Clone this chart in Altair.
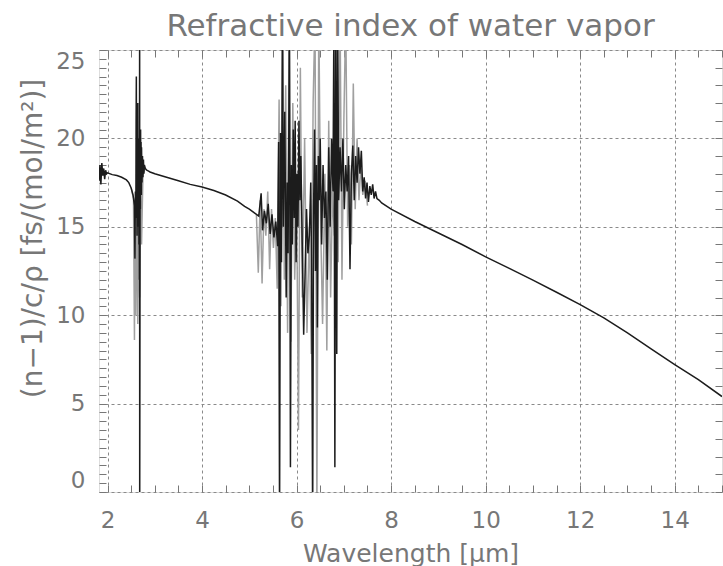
import altair as alt
import pandas as pd

# ---- data ----
# main (black) trace
black_x = [1.82, 1.84, 1.86, 1.88, 1.90, 1.92, 1.94, 1.96, 1.98, 2.00, 2.10, 2.20, 2.30, 2.40, 2.45, 2.50, 2.54, 2.57,
           2.58, 2.59, 2.60, 2.605, 2.61, 2.615, 2.62, 2.625, 2.63, 2.635, 2.64, 2.645, 2.65, 2.655, 2.66, 2.665,
           2.67, 2.675, 2.68, 2.681, 2.685, 2.69, 2.695, 2.70, 2.705, 2.71, 2.715, 2.72, 2.73, 2.74, 2.75, 2.76,
           2.77, 2.78, 2.80, 2.83, 2.87,
           2.90, 3.00, 3.25, 3.50, 3.75, 4.00, 4.25, 4.50, 4.75, 4.90, 5.00, 5.10,
           5.20, 5.25, 5.28, 5.32, 5.36, 5.40, 5.44, 5.48, 5.52, 5.56, 5.60, 5.62, 5.64, 5.66, 5.68, 5.70, 5.72,
           5.75, 5.78, 5.80, 5.82, 5.85, 5.87, 5.89, 5.91, 5.93, 5.95, 5.97, 5.99, 6.01, 6.03, 6.05, 6.07, 6.09,
           6.12, 6.15, 6.18, 6.21, 6.24, 6.27, 6.30, 6.32, 6.34, 6.36, 6.38, 6.40, 6.42, 6.44, 6.46, 6.48, 6.50,
           6.53, 6.56, 6.59, 6.62, 6.65, 6.68, 6.71, 6.74, 6.77, 6.79, 6.81, 6.83, 6.85, 6.87, 6.89, 6.92, 6.95,
           6.98, 7.01, 7.04, 7.07, 7.10, 7.13, 7.16, 7.19, 7.22, 7.25, 7.28, 7.31, 7.34, 7.37, 7.40, 7.43, 7.46,
           7.49, 7.52, 7.55, 7.58, 7.61, 7.64, 7.67, 7.70, 7.75, 7.80,
           8.00, 8.50, 9.00, 9.50, 10.00, 10.50, 11.00, 11.50, 12.00, 12.50, 13.00, 13.50, 14.00, 14.50, 15.00]
black_y = [17.6, 18.5, 17.4, 18.6, 17.9, 18.3, 17.7, 18.2, 18.0, 18.05, 17.95, 17.9, 17.8, 17.65, 17.5, 17.2, 16.8, 16.2,
           13.2, 17.0, 15.5, 21.0, 23.5, 16.0, 20.5, 14.5, 19.0, 16.5, 22.0, 15.0, 18.5, 17.0, 20.0, 14.0,
           19.5, 12.0, 28.0, -2.0, 6.5, 19.5, 16.0, 20.5, 17.0, 19.8, 16.8, 19.5, 17.5, 19.0, 17.8, 18.8,
           18.0, 18.5, 18.3, 18.2, 18.15,
           18.1, 18.0, 17.8, 17.6, 17.4, 17.25, 17.05, 16.8, 16.45, 16.15, 16.0, 15.8,
           15.6, 16.9, 14.8, 15.9, 15.2, 16.3, 14.6, 15.7, 14.4, 15.3, 13.9, 19.8, -2.0, 20.3, 13.0, 27.0, 15.0,
           21.5, 11.0, 17.5, 13.5, 27.0, 1.4, 18.5, 14.0, 20.5, 15.5, 21.0, 13.0, 18.0, 15.0, 21.0, 16.5, 19.0,
           14.0, 8.9, 12.4, 16.0, 13.5, 14.5, 17.5, 12.0, -2.0, 16.0, 20.5, 12.5, 18.5, 9.3, 19.0, 16.5, 20.0,
           14.0, 18.5, 15.5, 17.0, 12.0, 19.5, 15.0, 20.0, 17.0, 27.0, 1.4, 27.0, 7.8, 27.0, 16.5, 19.5, 17.0,
           20.0, 16.0, 18.5, 17.0, 19.0, 12.6, 18.0, 19.6, 16.5, 19.0, 17.5, 19.5, 18.0, 19.3, 17.0, 17.8, 16.6,
           17.5, 16.4, 17.3, 16.8, 17.4, 16.6, 17.0, 16.6, 16.5, 16.35,
           16.0, 15.3, 14.65, 14.0, 13.3, 12.65, 11.98, 11.3, 10.6, 9.85, 9.0, 8.1, 7.2, 6.35, 5.4]

# lighter (gray) trace, only where it separates from the black one
gray1_x = [2.50, 2.55, 2.57, 2.58, 2.60, 2.62, 2.64, 2.66, 2.68, 2.70, 2.72, 2.75, 2.80]
gray1_y = [17.2, 16.6, 8.6, 15.0, 10.0, 18.0, 9.5, 16.0, 11.0, 17.5, 14.0, 18.0, 18.3]

gray2_x = [5.15, 5.19, 5.23, 5.27, 5.31, 5.35, 5.39, 5.43, 5.47, 5.51, 5.55, 5.59, 5.63, 5.67, 5.71, 5.74, 5.77,
           5.81, 5.84, 5.88, 5.92, 5.96, 6.00, 6.04, 6.08, 6.12, 6.17, 6.22, 6.27, 6.31, 6.35, 6.39, 6.43, 6.47,
           6.51, 6.55, 6.60, 6.64, 6.68, 6.72, 6.76, 6.80, 6.84, 6.88, 6.92, 6.96, 7.00, 7.04, 7.08, 7.12, 7.16,
           7.20, 7.24, 7.28, 7.32, 7.36, 7.40, 7.45, 7.50]
gray2_y = [15.7, 12.4, 16.5, 11.8, 16.0, 14.5, 17.0, 12.6, 16.0, 13.8, 15.5, 11.5, 22.2, 10.5, 27.0, 12.0, 23.0,
           9.0, 27.0, 8.5, 22.0, 12.0, 17.0, 3.5, 24.0, 11.0, 20.0, 9.0, 15.0, 7.8, 22.0, 27.0, -1.0, 27.0,
           15.0, 9.5, 18.0, 8.0, 21.0, 11.0, 17.0, 14.5, 22.0, 13.0, 27.0, 12.0, 21.0, 27.0, 15.0, 18.5, 14.0,
           23.1, 16.0, 20.0, 16.5, 18.5, 16.8, 17.6, 16.2]

x_major = [2, 4, 6, 8, 10, 12, 14]
y_major = [0, 5, 10, 15, 20, 25]
x_minor = [v / 2 for v in range(4, 31)]
y_minor_left = [v / 2 for v in range(0, 51)]
y_minor_right = list(range(0, 26))

# ---- tables ----
df_black = pd.DataFrame({"x": black_x, "y": black_y, "seg": 0})
df_gray = pd.concat([
    pd.DataFrame({"x": gray1_x, "y": gray1_y, "seg": 1}),
    pd.DataFrame({"x": gray2_x, "y": gray2_y, "seg": 2}),
], ignore_index=True)

W, H = 623, 442
FONT = "DejaVu Sans"
TXT = "#777777"
GRID = "#8a8a8a"

xscale = alt.Scale(domain=[1.82, 15.0], nice=False, zero=False)
yscale = alt.Scale(domain=[0, 25], nice=False, zero=False)

ax_bottom = alt.Axis(orient="bottom", values=x_major, grid=True, gridDash=[3, 3], gridColor=GRID,
                     gridWidth=1, ticks=False, domain=False, labelFontSize=23, labelFont=FONT,
                     labelColor=TXT, labelPadding=17, labelFlush=False,
                     title="Wavelength [μm]", titleFont=FONT, titleFontSize=25, titleColor=TXT,
                     titleFontWeight="normal", titleX=W / 2, titleY=69, titleAlign="center",
                     titleBaseline="alphabetic")
ax_left = alt.Axis(orient="left", values=y_major, grid=True, gridDash=[3, 3], gridColor=GRID,
                   gridWidth=1, ticks=False, domain=False, labelFontSize=23, labelFont=FONT,
                   labelColor=TXT, labelPadding=14, labelFlush=True,
                   title="(n−1)/c/ρ [fs/(mol/m²)]", titleFont=FONT, titleFontSize=28, titleColor=TXT,
                   titleFontWeight="normal", titleAngle=270, titleX=-66, titleY=188,
                   titleAlign="center", titleBaseline="middle")

# inward minor ticks: bottom edge and left edge
ax_bottom_in = alt.Axis(orient="top", offset=-H, values=x_minor, ticks=True, tickSize=7,
                        tickColor="#777777", tickWidth=1, labels=False, domain=False, grid=False, title=None)
ax_left_in = alt.Axis(orient="right", offset=-W, values=y_minor_left, ticks=True, tickSize=7,
                      tickColor="#777777", tickWidth=1, labels=False, domain=False, grid=False, title=None)
# inward minor ticks: top edge and right edge
ax_top_in = alt.Axis(orient="bottom", offset=-H, values=x_minor, ticks=True, tickSize=7,
                     tickColor="#777777", tickWidth=1, labels=False, domain=False, grid=False, title=None)
ax_right_in = alt.Axis(orient="left", offset=-W, values=y_minor_right, ticks=True, tickSize=7,
                       tickColor="#777777", tickWidth=1, labels=False, domain=False, grid=False, title=None)

gray = alt.Chart(df_gray).mark_line(color="#a0a0a0", strokeWidth=1.5, clip=True).encode(
    x=alt.X("x:Q", scale=xscale, axis=ax_bottom),
    y=alt.Y("y:Q", scale=yscale, axis=ax_left),
    detail="seg:N",
)
black = alt.Chart(df_black).mark_line(color="#1c1c1c", strokeWidth=1.5, clip=True).encode(
    x=alt.X("x:Q", scale=xscale, axis=ax_bottom_in),
    y=alt.Y("y:Q", scale=yscale, axis=ax_left_in),
)
frame = alt.Chart(df_black).mark_line(opacity=0, clip=True).encode(
    x=alt.X("x:Q", scale=xscale, axis=ax_top_in),
    y=alt.Y("y:Q", scale=yscale, axis=ax_right_in),
)

chart = alt.layer(gray, black, frame).resolve_axis(x="independent", y="independent").properties(
    width=W, height=H,
    autosize=alt.AutoSizeParams(type="none"),
    padding={"left": 99, "top": 50, "right": 1, "bottom": 74},
    title=alt.TitleParams("Refractive index of water vapor", font=FONT, fontSize=31, color=TXT,
                          fontWeight="normal", anchor="middle", offset=14, dy=31, baseline="alphabetic"),
).configure_view(stroke="#8f8f8f", strokeWidth=2).configure(background="white")

chart.save("out.html", embed_options={"renderer": "svg", "actions": False})
